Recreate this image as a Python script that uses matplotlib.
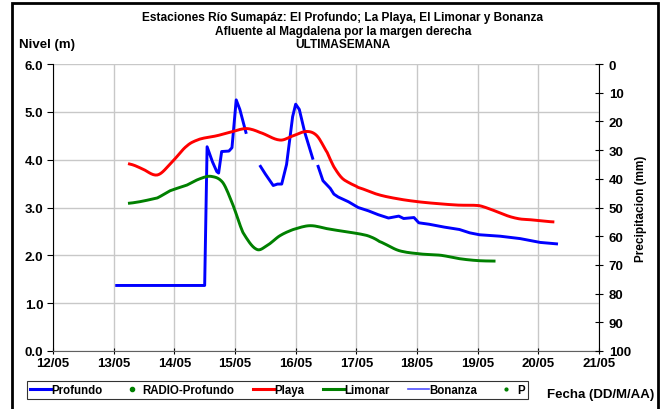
import matplotlib
matplotlib.use("Agg")
import matplotlib.pyplot as plt
from matplotlib.patches import Rectangle
import numpy as np

plt.rcParams["font.family"] = ["Liberation Sans", "DejaVu Sans"]
plt.rcParams["font.weight"] = "bold"

# days (12 = 12/05)
tick_days = [12, 13, 14, 15, 16, 17, 18, 19, 20, 21]
tick_labels = ["12/05", "13/05", "14/05", "15/05", "16/05", "17/05", "18/05", "19/05", "20/05", "21/05"]
y_ticks = [0, 1, 2, 3, 4, 5, 6]
rain_ticks = [0, 10, 20, 30, 40, 50, 60, 70, 80, 90, 100]

# Profundo, three pieces separated by gaps
prof1_x = [13.05, 14.0, 14.47, 14.50, 14.54, 14.63, 14.70, 14.73, 14.78, 14.90, 14.95, 15.02, 15.08, 15.18]
prof1_y = [1.37, 1.37, 1.37, 1.37, 4.27, 3.95, 3.75, 3.72, 4.17, 4.18, 4.25, 5.25, 5.05, 4.57]
prof2_x = [15.42, 15.50, 15.63, 15.70, 15.77, 15.85, 15.95, 16.00, 16.06, 16.15, 16.28]
prof2_y = [3.86, 3.70, 3.46, 3.49, 3.49, 3.90, 4.90, 5.16, 5.05, 4.57, 4.03]
prof3_x = [16.37, 16.45, 16.57, 16.63, 16.70, 16.87, 17.03, 17.20, 17.36, 17.53, 17.70, 17.78,
           17.95, 18.03, 18.20, 18.45, 18.70, 18.87, 19.03, 19.37, 19.70, 20.03, 20.30]
prof3_y = [3.86, 3.56, 3.40, 3.28, 3.22, 3.12, 3.00, 2.93, 2.85, 2.78, 2.82, 2.77, 2.79, 2.68,
           2.65, 2.59, 2.54, 2.47, 2.43, 2.40, 2.35, 2.27, 2.24]

playa_x = [13.26, 13.45, 13.72, 13.96, 14.21, 14.42, 14.70, 14.97, 15.19, 15.41, 15.74, 15.96,
           16.18, 16.35, 16.52, 16.63, 16.76, 16.89, 17.03, 17.36, 17.69, 18.02, 18.35, 18.68,
           19.02, 19.20, 19.36, 19.53, 19.70, 19.90, 20.24]
playa_y = [3.91, 3.82, 3.68, 3.95, 4.29, 4.43, 4.50, 4.59, 4.65, 4.57, 4.41, 4.50, 4.59, 4.50,
           4.15, 3.85, 3.62, 3.51, 3.42, 3.27, 3.18, 3.12, 3.08, 3.05, 3.04, 2.97, 2.89, 2.81,
           2.76, 2.74, 2.70]

limonar_x = [13.26, 13.72, 13.93, 14.21, 14.42, 14.61, 14.80, 14.97, 15.13, 15.35, 15.52, 15.74,
             15.96, 16.24, 16.55, 16.80, 17.05, 17.21, 17.38, 17.70, 18.05, 18.40, 18.70, 19.00, 19.27]
limonar_y = [3.09, 3.20, 3.35, 3.47, 3.60, 3.65, 3.52, 3.04, 2.48, 2.13, 2.20, 2.41, 2.54, 2.62,
             2.55, 2.50, 2.45, 2.40, 2.29, 2.10, 2.03, 2.00, 1.93, 1.89, 1.88]


def smooth(xs, ys, n=8):
    xs = np.asarray(xs, float)
    ys = np.asarray(ys, float)
    out_x, out_y = [xs[0]], [ys[0]]
    for i in range(len(xs) - 1):
        p0 = ys[max(i - 1, 0)]
        p1, p2 = ys[i], ys[i + 1]
        p3 = ys[min(i + 2, len(ys) - 1)]
        for t in np.linspace(0, 1, n + 1)[1:]:
            out_x.append(xs[i] + (xs[i + 1] - xs[i]) * t)
            out_y.append(0.5 * (2 * p1 + (-p0 + p2) * t + (2 * p0 - 5 * p1 + 4 * p2 - p3) * t ** 2
                                + (-p0 + 3 * p1 - 3 * p2 + p3) * t ** 3))
    return out_x, out_y


fig = plt.figure(figsize=(6.66, 4.10), dpi=100)
fig.patches.append(Rectangle((12 / 666, -0.05), 646 / 666, 1.05 - 4 / 410, transform=fig.transFigure,
                             fill=False, edgecolor="black", linewidth=2))
ax = fig.add_axes([53 / 666, 1 - 352 / 410, 546 / 666, 287 / 410])

blue = "#0000ff"
red = "#ff0000"
green = "#008000"

ax.plot(prof1_x, prof1_y, color=blue, lw=2.1, solid_joinstyle="round")
ax.plot(prof2_x, prof2_y, color=blue, lw=2.1, solid_joinstyle="round")
ax.plot(prof3_x, prof3_y, color=blue, lw=2.1, solid_joinstyle="round")
sx, sy = smooth(playa_x, playa_y)
ax.plot(sx, sy, color=red, lw=2.1)
sx, sy = smooth(limonar_x, limonar_y)
ax.plot(sx, sy, color=green, lw=2.1)

ax.set_xlim(12, 21)
ax.set_ylim(0, 6)
ax.set_xticks(tick_days)
ax.set_xticklabels(tick_labels)
ax.set_yticks(y_ticks)
ax.set_yticklabels([f"{v:.1f}" for v in y_ticks])
ax.grid(True, color="#c8c8c8", lw=1)
ax.set_axisbelow(True)
ax.spines["top"].set_visible(False)
ax.spines["right"].set_visible(False)
ax.spines["left"].set_color("black")
ax.spines["bottom"].set_color("#606060")
ax.tick_params(axis="both", labelsize=9.5, length=4, width=0.8)
ax.tick_params(axis="x", direction="inout", pad=2)
ax.tick_params(axis="y", direction="out", pad=3)

ax2 = ax.twinx()
ax2.set_ylim(100, 0)
ax2.set_yticks(rain_ticks)
ax2.tick_params(axis="y", labelsize=9.5, direction="inout", length=6, width=0.8, pad=4)
for s in ["top", "left", "bottom"]:
    ax2.spines[s].set_visible(False)
ax2.spines["right"].set_color("black")
ax2.set_ylabel("Precipitacion (mm)", fontsize=8.5, fontweight="bold", labelpad=3)

fig.text(343 / 666, 1 - 18.5 / 410, "Estaciones Río Sumapáz: El Profundo; La Playa, El Limonar y Bonanza",
         ha="center", va="center", fontsize=8.6, fontweight="bold")
fig.text(343 / 666, 1 - 31.5 / 410, "Afluente al Magdalena por la margen derecha",
         ha="center", va="center", fontsize=8.6, fontweight="bold")
fig.text(343 / 666, 1 - 44.5 / 410, "ULTIMASEMANA",
         ha="center", va="center", fontsize=8.6, fontweight="bold")
fig.text(19 / 666, 1 - 45 / 410, "Nivel (m)", ha="left", va="center", fontsize=9.5, fontweight="bold")
fig.text(654 / 666, 1 - 395 / 410, "Fecha (DD/M/AA)", ha="right", va="center", fontsize=9.5,
         fontweight="bold")

handles = [
    plt.Line2D([], [], color=blue, lw=2.2),
    plt.Line2D([], [], color=green, lw=0, marker="o", markersize=3),
    plt.Line2D([], [], color=red, lw=2.2),
    plt.Line2D([], [], color=green, lw=2.2),
    plt.Line2D([], [], color="#5050ff", lw=1.2),
    plt.Line2D([], [], color=green, lw=0, marker="o", markersize=2),
]
labels = ["Profundo", "RADIO-Profundo", "Playa", "Limonar", "Bonanza", "P"]
leg = fig.legend(handles, labels, loc="center left", bbox_to_anchor=(21 / 666, 1 - 391 / 410), ncol=6,
                 frameon=True, fancybox=False, edgecolor="black", handlelength=1.8,
                 handletextpad=0.05, columnspacing=1.6, borderpad=0.3,
                 prop={"weight": "bold", "size": 8.3})
leg.get_frame().set_linewidth(0.8)

fig.savefig("out.png", dpi=100)
